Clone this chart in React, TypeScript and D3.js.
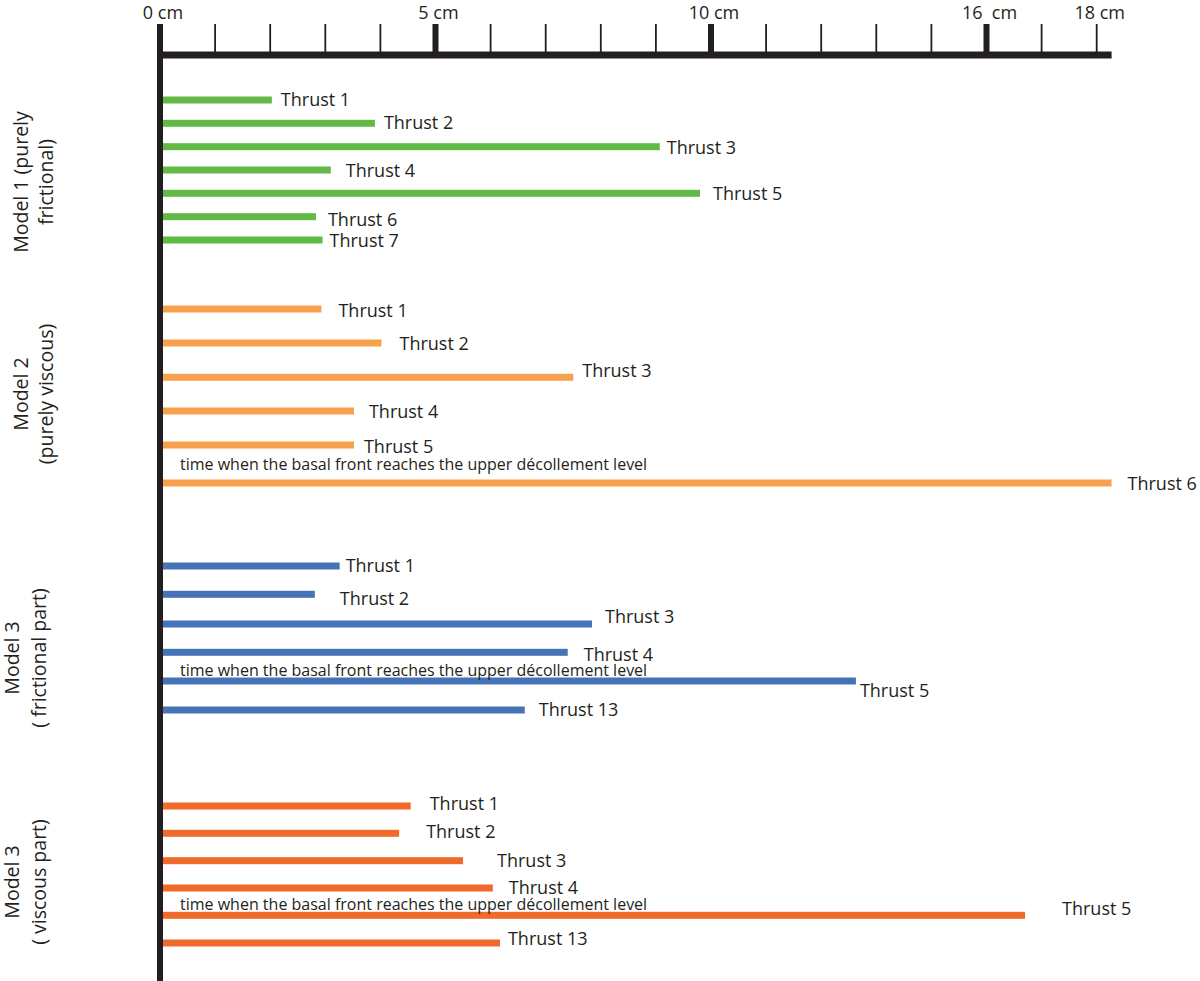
import React from "react";
import * as d3 from "d3";

// ---------- data ----------
const axisTicks = d3.range(0, 18);
const majorTicks = [0, 5, 10, 15];
const tickLabelPositions = [0, 5, 10, 15, 17];
const tickLabels = ["0 cm", "5 cm", "10 cm", "16  cm", "18 cm"];
const axisMax = 17.27;

const model1Names = ["Thrust 1", "Thrust 2", "Thrust 3", "Thrust 4", "Thrust 5", "Thrust 6", "Thrust 7"];
const model1Values = [2.03, 3.9, 9.07, 3.1, 9.8, 2.83, 2.95];

const model2Names = ["Thrust 1", "Thrust 2", "Thrust 3", "Thrust 4", "Thrust 5", "Thrust 6"];
const model2Values = [2.93, 4.02, 7.5, 3.52, 3.52, 17.27];

const model3fNames = ["Thrust 1", "Thrust 2", "Thrust 3", "Thrust 4", "Thrust 5", "Thrust 13"];
const model3fValues = [3.26, 2.81, 7.84, 7.4, 12.63, 6.62];

const model3vNames = ["Thrust 1", "Thrust 2", "Thrust 3", "Thrust 4", "Thrust 5", "Thrust 13"];
const model3vValues = [4.55, 4.34, 5.5, 6.04, 15.7, 6.17];

const groupTitles = [
  ["Model 1 (purely", "frictional)"],
  ["Model 2", "(purely viscous)"],
  ["Model 3", "( frictional part)"],
  ["Model 3", "( viscous part)"],
];
const annotationText = "time when the basal front reaches the upper décollement level";

// ---------- layout ----------
const W = 1200, H = 981;
const x = d3.scaleLinear().domain([0, 17]).range([160, 160 + 17 * 55.1]);
const axisY = 55;
const barH = 7;
const barStart = 163;

const groups = [
  {
    names: model1Names, values: model1Values, color: "#62b946",
    rowY: [100, 123.3, 146.7, 170, 193.3, 216.7, 240],
    dx: [9, 9, 7, 15, 13, 12, 7],
    dy: [6, 6, 7, 7, 7, 9, 7],
    titleY: 182, titleX: [28, 53], annotation: -1, annY: 0,
  },
  {
    names: model2Names, values: model2Values, color: "#f8a04c",
    rowY: [309, 343, 377.3, 411, 445, 483],
    dx: [17, 18, 9, 15, 10, 16],
    dy: [8, 7, 0, 7, 8, 7],
    titleY: 394, titleX: [28, 53], annotation: 5, annY: 470,
  },
  {
    names: model3fNames, values: model3fValues, color: "#4672b8",
    rowY: [566, 594.3, 624, 652.3, 681, 710],
    dx: [6, 25, 13, 16, 4, 14],
    dy: [6, 11, -1, 9, 16, 6],
    titleY: 658, titleX: [19, 46], annotation: 4, annY: 675.5,
  },
  {
    names: model3vNames, values: model3vValues, color: "#f06a2b",
    rowY: [806, 833.3, 860.7, 888, 915.3, 943],
    dx: [19, 27, 34, 16, 37, 8],
    dy: [4, 5, 6, 6, 0, 2],
    titleY: 882, titleX: [19, 46], annotation: 4, annY: 910,
  },
];

const ink = "#231f20";
const font = "'Open Sans', sans-serif";

export default function App() {
  return (
    <svg
      width={W}
      height={H}
      viewBox={`0 0 ${W} ${H}`}
      style={{ position: "absolute", left: 0, top: 0, display: "block", background: "#fff" }}
    >
      <rect width={W} height={H} fill="#fff" />
      {/* bars */}
      {groups.map((g, gi) => (
        <g key={gi}>
          {g.values.map((v, i) => (
            <rect
              key={i}
              x={barStart}
              y={g.rowY[i] - barH / 2}
              width={x(v) - barStart}
              height={barH}
              fill={g.color}
            />
          ))}
          {g.values.map((v, i) => (
            <text
              key={"l" + i}
              x={x(v) + g.dx[i]}
              y={g.rowY[i] + g.dy[i]}
              fontFamily={font}
              fontSize={18}
              fill={ink}
            >
              {g.names[i]}
            </text>
          ))}
          {g.annotation >= 0 && (
            <text x={180} y={g.annY} fontFamily={font} fontSize={16} fill={ink}>
              {annotationText}
            </text>
          )}
          {groupTitles[gi].map((t, li) => (
            <text
              key={"t" + li}
              transform={`translate(${g.titleX[li]},${g.titleY}) rotate(-90)`}
              textAnchor="middle"
              fontFamily={font}
              fontSize={19.5}
              fill={ink}
            >
              {t}
            </text>
          ))}
        </g>
      ))}
      {/* vertical axis */}
      <rect x={157} y={24} width={6} height={H - 24} fill={ink} />
      {/* horizontal axis */}
      <rect x={157} y={axisY - 3.5} width={x(axisMax) - 157} height={7} fill={ink} />
      {axisTicks.map((t) => {
        const major = majorTicks.includes(t);
        if (t === 0) return null;
        return (
          <rect
            key={t}
            x={x(t) - (major ? 3 : 0.9)}
            y={24}
            width={major ? 6 : 1.8}
            height={axisY - 24}
            fill={ink}
          />
        );
      })}
      {tickLabelPositions.map((p, i) => (
        <text
          key={"tl" + i}
          x={x(p) + 3}
          y={19}
          textAnchor="middle"
          fontFamily={font}
          fontSize={18}
          fill={ink}
          style={{ whiteSpace: "pre" }}
        >
          {tickLabels[i]}
        </text>
      ))}
    </svg>
  );
}
